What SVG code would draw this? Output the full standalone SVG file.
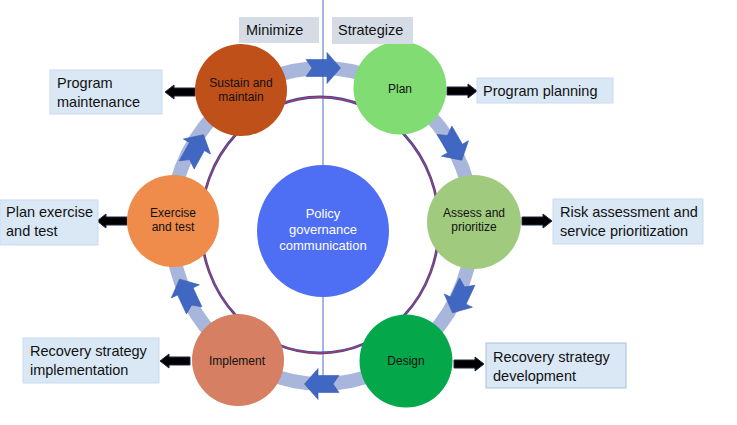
<svg xmlns="http://www.w3.org/2000/svg" width="737" height="425" viewBox="0 0 737 425">
<defs>
<style>
.lbl{font-family:"Liberation Sans",Arial,sans-serif;font-size:14.5px;fill:#111;}
.nt{font-family:"Liberation Sans",Arial,sans-serif;font-size:12px;fill:#111;text-anchor:middle;}
.ct{font-family:"Liberation Sans",Arial,sans-serif;font-size:13px;fill:#fff;text-anchor:middle;}
.box{fill:#dae8f6;stroke:#c9dbef;stroke-width:1;}
.gbox{fill:#d6dce5;}
.barrow{fill:#4068c2;stroke:#3a5cae;stroke-width:0.6;}
.karrow{fill:#000;stroke:#1e2a48;stroke-width:1;}
</style>
<polygon id="blueArrow" points="-17,-8.5 4,-8.5 4,-15.5 17.5,0 4,15.5 4,8.5 -17,8.5 -11,0"/>
<polygon id="blackArrow" points="-15,-4 6,-4 6,-7 15,0 6,7 6,4 -15,4"/>
</defs>
<rect width="737" height="425" fill="#fff"/>

<g id="connectors">
<ellipse cx="322" cy="226" rx="151" ry="158" fill="none" stroke="#a9b6dc" stroke-width="14"/>
<line x1="323" y1="0" x2="323" y2="378" stroke="#4a70c8" stroke-width="1"/>
<ellipse cx="320" cy="225" rx="119" ry="128" fill="none" stroke="#3d4ea6" stroke-width="2.8"/>
<ellipse cx="320" cy="225" rx="119" ry="128" fill="none" stroke="#d0304a" stroke-width="1"/>
<use href="#blueArrow" class="barrow" transform="translate(323,68)"/>
<use href="#blueArrow" class="barrow" transform="translate(453,145) rotate(60)"/>
<use href="#blueArrow" class="barrow" transform="translate(460,297) rotate(115)"/>
<use href="#blueArrow" class="barrow" transform="translate(322,384) rotate(180)"/>
<use href="#blueArrow" class="barrow" transform="translate(187,295) rotate(-115)"/>
<use href="#blueArrow" class="barrow" transform="translate(195,150) rotate(-61)"/>
<use href="#blackArrow" class="karrow" transform="translate(462,91)"/>
<use href="#blackArrow" class="karrow" transform="translate(180,92) rotate(180)"/>
<use href="#blackArrow" class="karrow" transform="translate(537,221)"/>
<use href="#blackArrow" class="karrow" transform="translate(112,221) rotate(180)"/>
<use href="#blackArrow" class="karrow" transform="translate(175,361) rotate(180)"/>
<use href="#blackArrow" class="karrow" transform="translate(469,364)"/>
</g>

<g id="center">
<circle cx="323" cy="231" r="66" fill="#4e6ff4"/>
<text class="ct" x="323" y="218">Policy</text>
<text class="ct" x="323" y="234">governance</text>
<text class="ct" x="323" y="250">communication</text>
</g>

<g id="sustain">
<circle cx="241" cy="90" r="46" fill="#c0501a"/>
<text class="nt" x="241" y="87">Sustain and</text>
<text class="nt" x="241" y="101">maintain</text>
</g>
<g id="plan">
<circle cx="400" cy="88" r="46.5" fill="#80dc73"/>
<text class="nt" x="400" y="93">Plan</text>
</g>
<g id="assess">
<circle cx="474" cy="222" r="47" fill="#a0cb7e"/>
<text class="nt" x="474" y="217">Assess and</text>
<text class="nt" x="474" y="231">prioritize</text>
</g>
<g id="design">
<circle cx="406" cy="361" r="46.5" fill="#04a84b"/>
<text class="nt" x="406" y="365">Design</text>
</g>
<g id="implement">
<circle cx="238" cy="360" r="46" fill="#d67f62"/>
<text class="nt" x="237" y="365">Implement</text>
</g>
<g id="exercise">
<circle cx="173" cy="221" r="46" fill="#ef8b4b"/>
<text class="nt" x="173" y="217">Exercise</text>
<text class="nt" x="173" y="231">and test</text>
</g>

<g id="minimize">
<rect class="gbox" x="239" y="17" width="80" height="26"/>
<text class="lbl" x="246" y="35">Minimize</text>
</g>
<g id="strategize">
<rect class="gbox" x="332" y="17" width="81" height="27"/>
<text class="lbl" x="338" y="35">Strategize</text>
</g>
<g id="program-planning">
<rect class="box" x="477" y="78" width="136" height="25"/>
<text class="lbl" x="483" y="96">Program planning</text>
</g>
<g id="risk-assessment">
<rect class="box" x="553" y="199" width="150" height="45"/>
<text class="lbl" x="560" y="217">Risk assessment and</text>
<text class="lbl" x="560" y="236">service prioritization</text>
</g>
<g id="program-maintenance">
<rect class="box" x="50" y="70" width="112" height="44"/>
<text class="lbl" x="57" y="88">Program</text>
<text class="lbl" x="57" y="107">maintenance</text>
</g>
<g id="plan-exercise">
<rect class="box" x="0" y="200" width="98" height="45"/>
<text class="lbl" x="6" y="217">Plan exercise</text>
<text class="lbl" x="6" y="236">and test</text>
</g>
<g id="recovery-implementation">
<rect class="box" x="23" y="338" width="136" height="45"/>
<text class="lbl" x="30" y="356">Recovery strategy</text>
<text class="lbl" x="30" y="375">implementation</text>
</g>
<g id="recovery-development">
<rect class="box" x="486" y="343" width="140" height="45" style="stroke:#a9bfdc"/>
<text class="lbl" x="493" y="362">Recovery strategy</text>
<text class="lbl" x="493" y="381">development</text>
</g>
</svg>
